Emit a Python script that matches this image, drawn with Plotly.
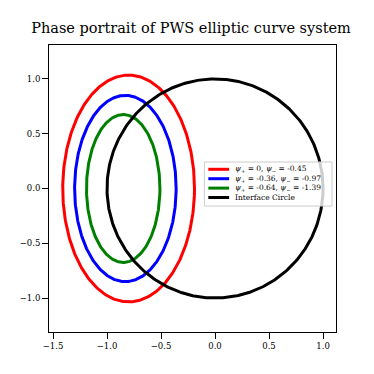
import numpy as np
import plotly.graph_objects as go

# ellipse parameters
labels = [
    "<i>ψ</i><sub>+</sub> = 0, <i>ψ</i><sub>−</sub> = -0.45",
    "<i>ψ</i><sub>+</sub> = -0.36, <i>ψ</i><sub>−</sub> = -0.97",
    "<i>ψ</i><sub>+</sub> = -0.64, <i>ψ</i><sub>−</sub> = -1.39",
]
colors = ["red", "blue", "green"]
centers_x = [-0.80, -0.83, -0.85]
semi_x = [0.61, 0.47, 0.34]
semi_y = [1.035, 0.85, 0.675]

circle_label = "Interface Circle"
circle_radius = 1.0
x_ticks = [-1.5, -1.0, -0.5, 0.0, 0.5, 1.0]
y_ticks = [-1.0, -0.5, 0.0, 0.5, 1.0]

t = np.linspace(0, 2 * np.pi, 400)
fig = go.Figure()

for lab, col, cx, a, b in zip(labels, colors, centers_x, semi_x, semi_y):
    fig.add_trace(go.Scatter(x=cx + a * np.cos(t), y=b * np.sin(t), mode="lines",
                             line=dict(color=col, width=3), name=lab, showlegend=False))

fig.add_trace(go.Scatter(x=circle_radius * np.cos(t), y=circle_radius * np.sin(t),
                         mode="lines", line=dict(color="black", width=3),
                         name=circle_label, showlegend=False))

axis_style = dict(showline=True, mirror=True, linecolor="black", linewidth=1,
                  ticks="outside", ticklen=6, tickwidth=1, tickcolor="black",
                  showgrid=False, zeroline=False,
                  tickfont=dict(size=8.5, color="black", family="DejaVu Serif"))

fig.update_xaxes(range=[-1.537, 1.12], tickvals=x_ticks,
                 ticktext=[f"{v:.1f}".replace("-", "−") for v in x_ticks], **axis_style)
fig.update_yaxes(range=[-1.31, 1.31], tickvals=y_ticks,
                 ticktext=[f"{v:.1f}".replace("-", "−") for v in y_ticks], **axis_style)

# compact matplotlib-style legend (plotly's own rows are too tall at this size)
plot_w, plot_h = 290.0, 287.0
legend_items = list(zip(labels + [circle_label], colors + ["black"]))
row_step = 9.4
box_top_px, box_bot_px = 117.0, 161.0  # px from plot top
fig.add_shape(type="rect", xref="paper", yref="paper",
              x0=157 / plot_w, x1=286 / plot_w,
              y0=1 - box_bot_px / plot_h, y1=1 - box_top_px / plot_h,
              line=dict(color="#cccccc", width=1), fillcolor="rgba(255,255,255,0.8)",
              layer="above")
for i, (lab, col) in enumerate(legend_items):
    yp = 1 - (124.3 + row_step * i) / plot_h
    fig.add_shape(type="line", xref="paper", yref="paper",
                  x0=161 / plot_w, x1=182 / plot_w, y0=yp, y1=yp,
                  line=dict(color=col, width=3), layer="above")
    fig.add_annotation(x=186 / plot_w, y=yp, xref="paper", yref="paper",
                       text=lab, showarrow=False, xanchor="left", yanchor="middle",
                       font=dict(size=7.5, family="DejaVu Serif", color="black"))

fig.update_layout(
    width=366, height=366,
    margin=dict(l=38, r=38, t=37, b=42),
    paper_bgcolor="white", plot_bgcolor="white",
    font=dict(family="DejaVu Serif", color="black"),
    title=dict(text="Phase portrait of PWS elliptic curve system",
               x=0.5, xanchor="center", y=(366 - 20) / 366, yanchor="middle",
               font=dict(size=14.5, family="DejaVu Serif")),
    showlegend=False,
)

fig.write_html("out.html")
